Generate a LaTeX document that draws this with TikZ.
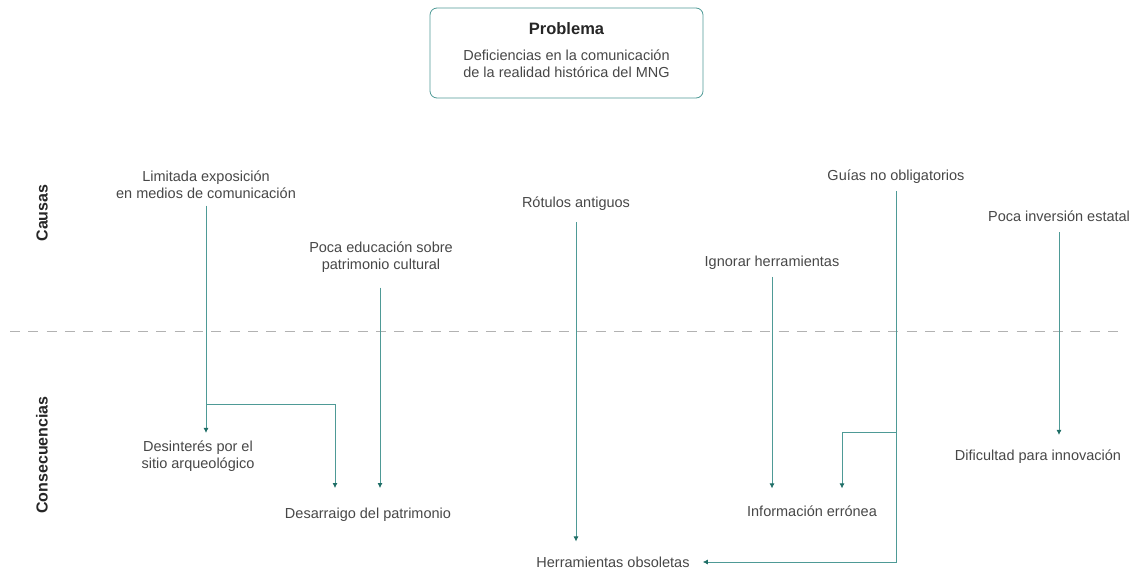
\documentclass[tikz,border=0pt]{standalone}
\usepackage{fontspec}
\setmainfont{Liberation Sans}
\usetikzlibrary{arrows.meta, positioning}

\definecolor{linec}{HTML}{4E9A96}
\definecolor{tipc}{HTML}{1F6E66}
\definecolor{txtc}{HTML}{474747}

\begin{document}
\begin{tikzpicture}[x=1pt, y=-1pt, auto]
  \tikzstyle{label} = [text=txtc, align=center, inner sep=5pt, font={\fontsize{14.5}{17}\selectfont}];
  \tikzstyle{side} = [text=black!85, rotate=90, font={\fontsize{16}{19}\selectfont\bfseries}];
  \tikzstyle{probBox} = [draw=linec, thick, rounded corners=7pt, minimum width=273pt, minimum height=90pt];
  \tikzstyle{link} = [linec, thick, -{Latex[length=5pt, width=5pt, color=tipc]}];
  \tikzstyle{linkPortion} = [linec, thick];

  \useasboundingbox (0,0) rectangle (1134,570);

  % problema
  \node[probBox] (prob) at (566.5,53) {};
  \node[text=black!85, font={\fontsize{16.5}{20}\selectfont\bfseries}] (probTitle) at (566.5,29) {Problema};
  \node[label] (probText) at (566.5,64) {Deficiencias en la comunicación\\de la realidad histórica del MNG};

  % separador
  \draw[black!30, thick, dash pattern=on 10pt off 8.3pt] (10,331) -- (1124,331);
  \node[side] (causas) at (42,213) {Causas};
  \node[side] (consec) at (42,455) {Consecuencias};

  % causas
  \node[label] (lim) at (206,184.5) {Limitada exposición\\en medios de comunicación};
  \node[label] (edu) at (381,257) {Poca educación sobre\\patrimonio cultural};
  \node[label] (rot) at (576,204) {Rótulos antiguos};
  \node[label] (ign) at (772,263) {Ignorar herramientas};
  \node[label] (gui) at (896,177) {Guías no obligatorios};
  \node[label] (inv) at (1059,216.5) {Poca inversión estatal};

  % consecuencias
  \node[label] (des) at (198,456.5) {Desinterés por el\\sitio arqueológico};
  \node[label] (desa) at (368,515) {Desarraigo del patrimonio};
  \node[label] (herr) at (613,562) {Herramientas obsoletas};
  \node[label] (info) at (812,511) {Información errónea};
  \node[label] (dif) at (1038,457) {Dificultad para innovación};

  \coordinate (j1) at (206,404);
  \coordinate (k1) at (335,404);
  \coordinate (j2) at (896,432);
  \coordinate (k2) at (842,432);

  \draw[link, shorten <=2pt, shorten >=3pt] (lim.south) -- (lim.south |- des.north);
  \draw[link, shorten >=15pt] (j1) -- (k1) -- (k1 |- desa.north);
  \draw[link, shorten <=10pt, shorten >=15pt] (edu.south -| 380,0) -- (380,0 |- desa.north);
  \draw[link, shorten <=6pt, shorten >=10pt] (rot.south) -- (rot.south |- herr.north);
  \draw[link, shorten <=2pt, shorten >=12pt] (ign.south) -- (ign.south |- info.north);
  \draw[link, shorten <=2pt, shorten >=8pt] (gui.south) -- (gui.south |- herr.east) -- (herr.east);
  \draw[link, shorten >=12pt] (j2) -- (k2) -- (k2 |- info.north);
  \draw[link, shorten <=5pt, shorten >=10pt] (inv.south) -- (inv.south |- dif.north);
\end{tikzpicture}
\end{document}
